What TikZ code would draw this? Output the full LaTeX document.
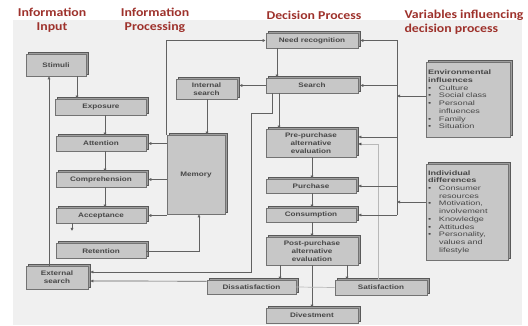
\documentclass[tikz,border=0pt]{standalone}
\usepackage{fontspec}
\setmainfont{Liberation Sans}
\newfontfamily\boxfont[FakeStretch=1.25]{Liberation Sans}
\newfontfamily\listfont[FakeStretch=1.4]{Liberation Sans}
\newfontfamily\titlefont[FakeStretch=1.15]{Carlito}
\usetikzlibrary{shadows,arrows.meta,calc}
\definecolor{titlered}{RGB}{158,50,44}
\newcommand\bul{\makebox[11pt][l]{\textbullet}}
\newcommand\cnt{\hspace*{11pt}}
\begin{document}
\begin{tikzpicture}[x=1pt,y=-1pt,
  box/.style={draw=black!55, fill=black!22, line width=0.6pt, inner sep=1pt,
    align=center, text=black!72,
    font=\boxfont\fontsize{6.5}{7.8}\selectfont\bfseries,
    copy shadow={shadow xshift=2pt, shadow yshift=2pt, fill=black!38, draw=black!65, line width=0.6pt}},
  listbox/.style={box, align=left, inner xsep=2pt,
    font=\listfont\fontsize{6.5}{7.7}\selectfont},
  ttl/.style={font=\titlefont\fontsize{12}{14}\selectfont\bfseries, text=titlered, align=center},
  arr/.style={draw=black!62, line width=0.7pt, -{Latex[length=3pt,width=3.2pt]}},
  ln/.style={draw=black!62, line width=0.7pt},
  lite/.style={draw=black!28, line width=0.7pt}
]
\useasboundingbox (0,0) rectangle (528,326);
\fill[white] (0,0) rectangle (528,326);
\fill[black!6] (13,20) rectangle (522,325);

% titles
\node[ttl] (t1) at (52,20) {Information\\Input};
\node[ttl] (t2) at (155,20) {Information\\Processing};
\node[ttl] (t3) at (314,15) {Decision Process};
\node[ttl, align=left, anchor=west] (t4) at (401,22) {Variables influencing\\decision process};

% information input / processing
\node[box, minimum width=60pt, minimum height=22pt] (stim) at (56,65) {Stimuli};
\node[box, minimum width=91pt, minimum height=16pt] (expo) at (101,107) {Exposure};
\node[box, minimum width=90pt, minimum height=15pt] (atten) at (101,143.5) {Attention};
\node[box, minimum width=90pt, minimum height=15pt] (compr) at (101,179.5) {Comprehension};
\node[box, minimum width=90pt, minimum height=15pt] (accep) at (101,215.5) {Acceptance};
\node[box, minimum width=90pt, minimum height=15pt] (reten) at (101,251) {Retention};
\node[box, minimum width=62pt, minimum height=23pt] (extsrch) at (57,277.5) {External\\search};
\node[box, minimum width=61pt, minimum height=20pt] (intsrch) at (206.5,89) {Internal\\search};
\node[box, minimum width=58pt, minimum height=79pt] (memory) at (196,174.5) {Memory};

% decision process
\node[box, minimum width=92pt, minimum height=15pt] (needrec) at (312,40.5) {Need recognition};
\node[box, minimum width=92pt, minimum height=15pt] (search) at (312,85.5) {Search};
\node[box, minimum width=90pt, minimum height=28pt] (prepur) at (311,143) {Pre-purchase\\alternative\\evaluation};
\node[box, minimum width=90pt, minimum height=14pt] (purch) at (311,186) {Purchase};
\node[box, minimum width=90pt, minimum height=14pt] (consum) at (311,215) {Consumption};
\node[box, minimum width=92pt, minimum height=28pt] (postpur) at (312,251) {Post-purchase\\alternative\\evaluation};
\node[box, minimum width=89pt, minimum height=14pt] (dissat) at (251.5,287) {Dissatisfaction};
\node[box, minimum width=92pt, minimum height=15pt] (satis) at (381,287.5) {Satisfaction};
\node[box, minimum width=92pt, minimum height=15pt] (divest) at (312,315.5) {Divestment};

% variables
\node[listbox, minimum width=84pt, minimum height=75pt, text width=80pt] (env) at (468,99.5)
  {\textbf{Environmental}\\\textbf{influences}\\\bul Culture\\\bul Social class\\\bul Personal\\\cnt influences\\\bul Family\\\bul Situation};
\node[listbox, minimum width=82pt, minimum height=96pt, text width=78pt] (indiv) at (467,212)
  {\textbf{Individual}\\\textbf{differences}\\\bul Consumer\\\cnt resources\\\bul Motivation,\\\cnt involvement\\\bul Knowledge\\\bul Attitudes\\\bul Personality,\\\cnt values and\\\cnt lifestyle};

\coordinate (accdown) at (72,231);

% connectors: input / processing
\draw[arr] (77,0 |- stim.south) -- (77,0 |- expo.north);
\draw[arr] (49,0 |- extsrch.north) -- (49,0 |- stim.south);
\draw[arr] (105,0 |- expo.south) -- (105,0 |- atten.north);
\draw[arr] (105,0 |- atten.south) -- (105,0 |- compr.north);
\draw[arr] (105,0 |- compr.south) -- (105,0 |- accep.north);
\draw[arr] (72,0 |- accep.south) -- (accdown);
\draw[arr] (memory.west |- atten.east) -- ([xshift=2pt]atten.east);
\draw[arr] (memory.west |- compr.east) -- ([xshift=2pt]compr.east);
\draw[arr] (memory.west |- accep.east) -- ([xshift=2pt]accep.east);
\draw[arr] (207,0 |- intsrch.south) -- (207,0 |- memory.north);
\draw[arr] (reten.east) -| ([xshift=3pt]memory.south);
\draw[arr] (search.west) -- ([xshift=2pt]intsrch.east |- search.west);
\draw[arr] (memory.north west) -- (memory.north west |- needrec.west) -- (needrec.west);

% decision process
\draw[arr] (277,0 |- needrec.south) -- (277,0 |- search.north);
\draw[arr] (279,0 |- search.south) -- (279,0 |- prepur.north);
\draw[arr] (272,0 |- search.south) -- (272,113) -- (251,113) -- (251,272) -- ([xshift=2pt]extsrch.east |- 0,272);
\draw[arr] ([yshift=-1.5pt]dissat.north west) -- ([xshift=2pt]extsrch.east |- 0,281);
\draw[arr] (312,0 |- prepur.south) -- (312,0 |- purch.north);
\draw[arr] (312,0 |- purch.south) -- (312,0 |- consum.north);
\draw[arr] (312,0 |- consum.south) -- (312,0 |- postpur.north);
\draw[arr] (312,0 |- postpur.south) -- (312,0 |- divest.north);
\draw[arr] (280,0 |- postpur.south) -- (280,0 |- dissat.north);
\draw[arr] (347,0 |- postpur.south) -- (347,0 |- satis.north);
\draw[lite] (dissat.east) -- (satis.west);
\draw[lite, -{Latex[length=3pt,width=3.2pt,color=black!70]}] (378,0 |- satis.north) -- (378,144) -- ([xshift=2pt]prepur.east |- 0,144);

% variables bus
\draw[ln] (397,0 |- needrec.east) -- (397,0 |- consum.east);
\draw[arr] (397,0 |- needrec.east) -- ([xshift=2pt]needrec.east);
\draw[arr] (397,0 |- search.east) -- ([xshift=2pt]search.east);
\draw[arr] (397,137) -- ([xshift=2pt]prepur.east |- 0,137);
\draw[arr] (397,0 |- purch.east) -- ([xshift=2pt]purch.east);
\draw[arr] (397,0 |- consum.east) -- ([xshift=2pt]consum.east);
\draw[arr] (env.west |- 0,96) -- (397,96);
\draw[arr] (indiv.west |- 0,202) -- (397,202);
\end{tikzpicture}
\end{document}
